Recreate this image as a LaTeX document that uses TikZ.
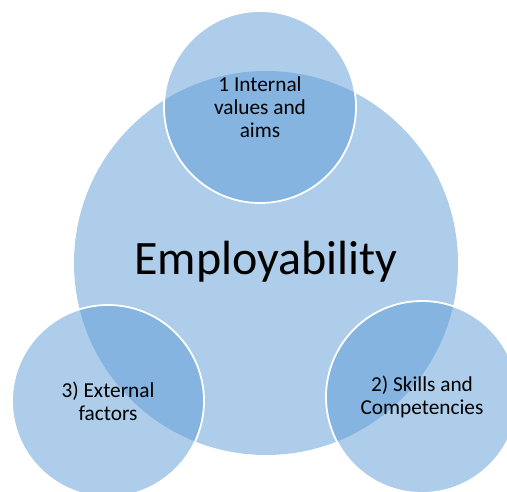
\documentclass[tikz,border=0pt]{standalone}
\usepackage{fontspec}
\setmainfont{Carlito}
\definecolor{baseblue}{RGB}{91,155,213}
\begin{document}
\begin{tikzpicture}[x=1pt,y=1pt,
  bigcirc/.style={circle,fill=baseblue,fill opacity=0.5,text opacity=1,draw=none,minimum size=384pt,inner sep=0pt},
  smallcirc/.style={circle,fill=baseblue,fill opacity=0.5,text opacity=1,draw=white,draw opacity=1,line width=1.8pt,minimum size=192pt,inner sep=0pt,align=center,font=\fontsize{21.3}{23.3}\selectfont}]
\useasboundingbox (0,0) rectangle (507,-492);
\clip (0,0) rectangle (507,-492);
\node[bigcirc] (main) at (266,-263) {};
\node[font=\fontsize{48}{58}\selectfont] (emp) at (266,-262) {Employability};
\node[smallcirc] (top) at (260,-107) {1 Internal\\values and\\aims};
\node[smallcirc] (left) at (108,-401) {3) External\\factors};
\node[smallcirc] (right) at (422,-397) {2) Skills and\\Competencies};
\end{tikzpicture}
\end{document}
